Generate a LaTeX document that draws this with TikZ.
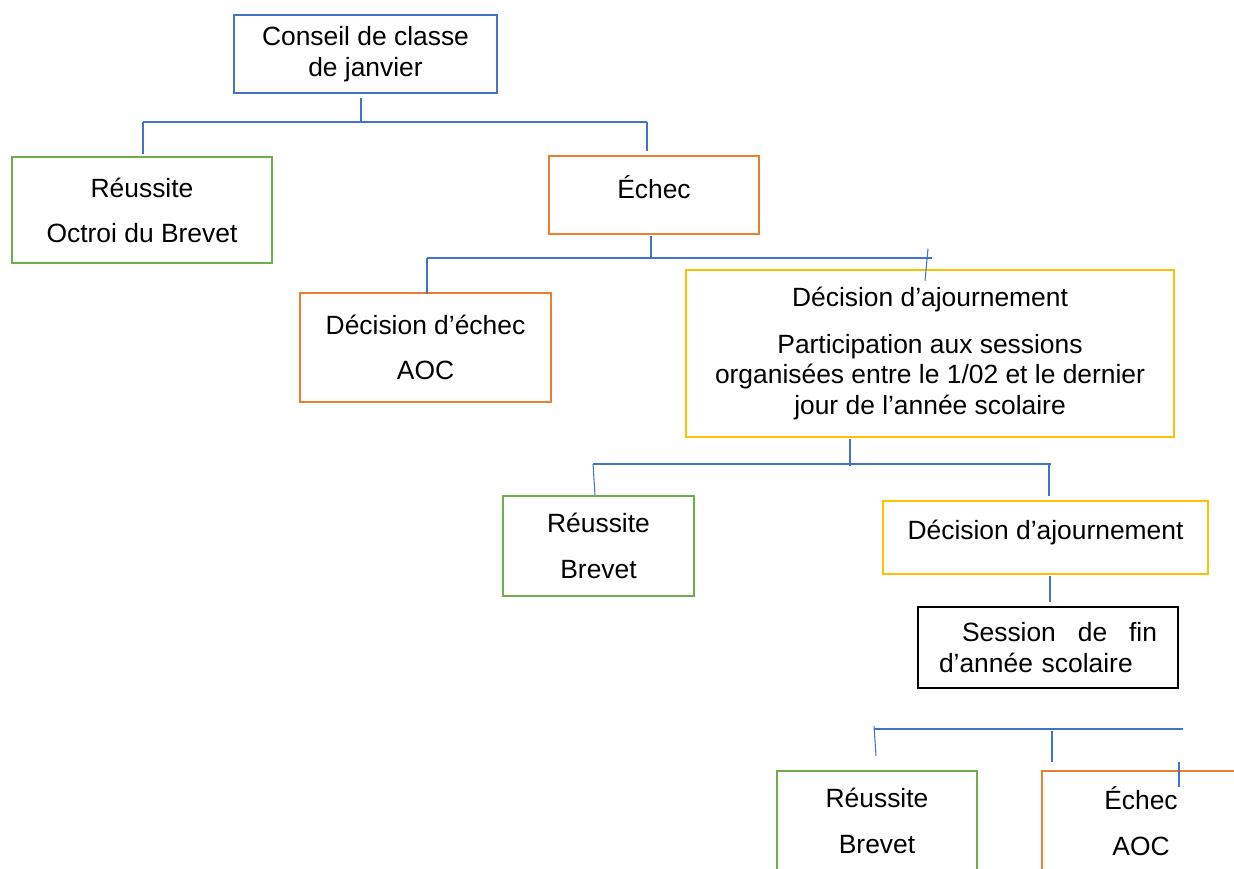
\documentclass[tikz,border=0pt]{standalone}
\usepackage{fontspec}
\setmainfont{Liberation Sans}
\usetikzlibrary{calc}
\definecolor{boxblue}{HTML}{4472C4}
\definecolor{boxgreen}{HTML}{70AD47}
\definecolor{boxorange}{HTML}{ED7D31}
\definecolor{boxyellow}{HTML}{FFC000}
\newlength\unitpx
\setlength\unitpx{0.75pt}
\begin{document}
\begin{tikzpicture}[x=\unitpx,y=-\unitpx,
  box/.style={draw=#1,line width=1.9pt,align=center,inner sep=0pt,
    font=\fontsize{19.8}{23.2}\selectfont},
  link/.style={draw=boxblue,line width=0.8pt}]
  \clip (0,0) rectangle (1234,868);

  %% boxes
  \node[box=boxblue,minimum width=263\unitpx,minimum height=78\unitpx] (conseil) at (365.5,54) {Conseil de classe\\de janvier};
  \node[box=boxgreen,minimum width=260\unitpx,minimum height=106\unitpx] (reussiteA) at (142,210) {Réussite\\[10.5pt]Octroi du Brevet};
  \node[box=boxorange,minimum width=210\unitpx,minimum height=78\unitpx] (echecA) at (654,195) {Échec\\[-11pt]\mbox{}};
  \node[box=boxorange,minimum width=251\unitpx,minimum height=109\unitpx] (echecDec) at (425.5,347.5) {Décision d’échec\\[11pt]AOC};
  \node[box=boxyellow,minimum width=488\unitpx,minimum height=167\unitpx] (ajournA) at (930,353.5) {Décision d’ajournement\\[12pt]Participation aux sessions\\organisées entre le 1/02 et le dernier\\jour de l’année scolaire};
  \node[box=boxgreen,minimum width=191\unitpx,minimum height=100\unitpx] (reussiteB) at (598.5,546) {Réussite\\[11pt]Brevet};
  \node[box=boxyellow,minimum width=325\unitpx,minimum height=73\unitpx] (ajournB) at (1045.5,537.5) {Décision d’ajournement\\[-11pt]\mbox{}};
  \node[box=black,minimum width=260\unitpx,minimum height=81\unitpx,text width=218\unitpx,align=left] (session) at (1048,647.5) {\hspace*{23\unitpx}Session\hfill de\hfill fin\\d’année scolaire};
  \node[box=boxgreen,minimum width=200\unitpx,minimum height=100\unitpx] (reussiteC) at (877,821) {Réussite\\[11pt]Brevet};
  \node[box=boxorange,minimum width=198\unitpx,minimum height=100\unitpx] (echecB) at (1141,821) {Échec\\[11pt]AOC};

  %% first fork
  \coordinate (busA) at (361,122);
  \coordinate (busAl) at (143,122);
  \coordinate (busAr) at (647,122);
  \draw[link] ($(conseil.south -| busA)+(0,4)$) -- (busA);
  \draw[link] (busAl) -- (busAr);
  \draw[link] (busAl) -- ($(busAl |- reussiteA.north)+(0,-2)$);
  \draw[link] (busAr) -- ($(busAr |- echecA.north)+(0,-4)$);

  %% second fork
  \coordinate (busB) at (651,258);
  \coordinate (busBl) at (427,258);
  \coordinate (busBr) at (932,258);
  \draw[link] ($(echecA.south -| busB)+(0,1)$) -- (busB);
  \draw[link] (busBl) -- (busBr);
  \draw[link] (busBl) -- ($(busBl |- echecDec.north)+(0,2)$);
  \draw[link] ($(ajournA.north)+(-2,-20)$) -- ($(ajournA.north)+(-5,12)$);

  %% third fork
  \coordinate (busC) at (850,464);
  \coordinate (busCl) at (593,464);
  \coordinate (busCr) at (1051,464);
  \draw[link] ($(ajournA.south -| busC)+(0,1)$) -- ($(busC)+(0,2)$);
  \draw[link] (busCl) -- (busCr);
  \draw[link] (busCl) -- ($(busCl |- reussiteB.north)+(2,0)$);
  \draw[link] ($(busCr)+(-2,0)$) -- ($(busCr |- ajournB.north)+(-2,-4)$);
  \draw[link] ($(ajournB.south)+(4.5,1)$) -- ($(session.north)+(2,-4)$);

  %% last fork
  \coordinate (busDl) at (874,729);
  \coordinate (busDr) at (1183,729);
  \draw[link] (busDl) -- (busDr);
  \draw[link] ($(busDl)+(0,-3)$) -- ($(busDl |- reussiteC.north)+(2,-14)$);
  \draw[link] ($(reussiteC.north)+(175,-39)$) -- ($(reussiteC.north)+(175,-8)$);
  \draw[link] ($(echecB.north)+(38,-8)$) -- ($(echecB.north)+(38,17)$);
\end{tikzpicture}
\end{document}
